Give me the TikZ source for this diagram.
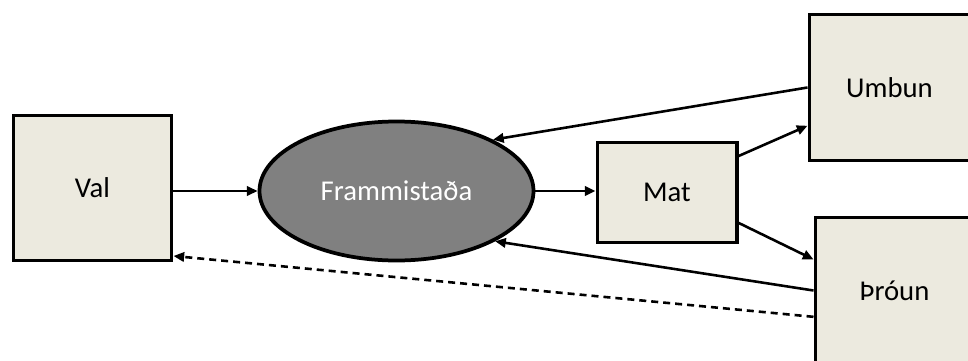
\documentclass[tikz,border=0pt]{standalone}
\usepackage{fontspec}
\setmainfont{Carlito}
\usetikzlibrary{arrows.meta,shapes.geometric}
\definecolor{boxbeige}{RGB}{236,234,223}
\definecolor{ovalgrey}{RGB}{128,128,128}

\begin{document}
\begin{tikzpicture}[x=0.03cm, y=-0.03cm, >={Triangle[length=3.2mm,width=2.8mm]},
    stage/.style={draw, line width=3.4pt, fill=boxbeige, rectangle,
        font=\fontsize{24.5}{29}\selectfont},
    hub/.style={draw, line width=3.2pt, fill=ovalgrey, ellipse, text=white,
        minimum width=8.22cm, minimum height=4.17cm, inner sep=0pt,
        font=\fontsize{24.5}{29}\selectfont},
    flow/.style={->, line width=2.2pt},
    loopback/.style={->, line width=2.2pt, dash pattern=on 0.21cm off 0.15cm}]

    % Frame of the picture
    \useasboundingbox (0,0) rectangle (968,361);
    \clip (0,0) rectangle (968,361);

    % Boxes and the oval
    \node[stage, minimum width=4.74cm, minimum height=4.35cm] (val) at (92.5,188) {Val};
    \node[hub] (frammi) at (396.5,191) {Frammista\dh a};
    \node[stage, minimum width=4.17cm, minimum height=3.0cm] (mat) at (667,192.5) {Mat};
    \node[stage, minimum width=4.8cm, minimum height=4.38cm] (umbun) at (889.5,87.5) {Umbun};
    \node[stage, minimum width=4.74cm, minimum height=4.38cm] (throun) at (894.5,290.5) {Þróun};

    % Forward flow
    \draw[flow] (val.east |- frammi.west) -- (frammi.west);
    \draw[flow] (frammi.east) -- (mat.west |- frammi.east);
    \draw[flow] (mat.27) -- (umbun.205);
    \draw[flow] (mat.-23) -- (throun.159.5);

    % Feedback to the oval
    \draw[flow] (umbun.west) -- (frammi.28);
    \draw[flow] (throun.west) -- (frammi.-27);

    % Dashed return to Val
    \draw[loopback] (throun.198) -- (val.-40.7);

\end{tikzpicture}
\end{document}
